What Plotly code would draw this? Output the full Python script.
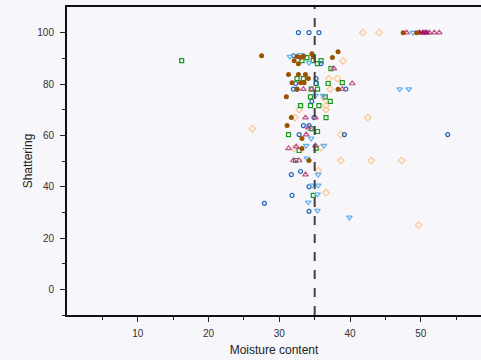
import plotly.graph_objects as go

# ---- data (moisture content, shattering) ----
blue_x = [32.7, 34.2, 35.6, 32.0, 33.4, 35.9, 35.2, 32.3, 35.2, 32.0, 32.5, 39.4, 34.6, 34.9, 33.4, 34.2,
          32.8, 39.2, 53.8, 31.7, 33.0, 34.2, 31.8, 34.2, 27.9]
blue_y = [100, 100, 100, 91, 91, 87.9, 82.1, 80.2, 80.2, 78, 78, 78, 73.2, 66.9, 63.8, 63.8,
          60.3, 60.3, 60.3, 44.7, 45.9, 40, 36.6, 30.4, 33.5]

lblue_x = [31.5, 33.0, 34.2, 48.9, 35.1, 36.2, 47.0, 48.3, 34.5, 33.8, 36.3, 33.9, 35.5, 34.6, 35.5,
           35.4, 34.1, 35.4, 39.9]
lblue_y = [90.7, 91.4, 88.3, 100, 75.5, 75.5, 78, 78, 58.8, 56, 56, 51, 44.7, 40.5, 40.5,
           37, 33.9, 30.7, 28]

green_x = [16.2, 33.2, 33.9, 34.8, 35.9, 35.4, 37.3, 32.5, 33.4, 35.2, 36.9, 38.9, 34.5, 35.4, 34.4,
           36.5, 37.2, 33.0, 34.4, 35.6, 36.6, 34.5, 31.3, 35.4, 32.8, 35.2, 32.3, 34.8]
green_y = [89.1, 89.1, 90.3, 89.1, 89.1, 87.9, 86, 82.1, 82.1, 80.2, 80.2, 80.5, 78, 78, 75,
           75, 73.2, 71.6, 71.6, 71.6, 66.9, 62.6, 60.3, 61.5, 54.1, 54.9, 50.2, 36.6]

brown_x = [27.5, 47.5, 49.4, 32.5, 33.0, 33.4, 34.6, 34.8, 32.1, 32.7, 37.5, 38.3, 31.3, 32.7, 33.7,
           31.8, 33.0, 33.5, 34.1, 32.5, 38.3, 31.0, 31.7, 31.1, 33.2, 33.2, 34.2]
brown_y = [91, 100, 100, 90.7, 90.3, 90.7, 91.8, 90.7, 89.1, 87.9, 90.3, 92.6, 83.7, 83.7, 83.7,
           80.5, 80.5, 80.5, 82.1, 78, 78, 75, 66.9, 63.8, 58.8, 54.9, 50.2]

orange_x = [41.8, 44.1, 39.0, 37.0, 38.2, 37.2, 36.3, 36.6, 36.6, 32.8, 32.2, 42.5, 26.2, 38.7,
            32.1, 35.9, 38.7, 43.0, 47.3, 35.5, 36.6, 49.7]
orange_y = [100, 100, 89, 82.1, 82.1, 78, 74.7, 71.6, 70, 70, 66.9, 66.9, 62.6, 60.3,
            54.9, 55.3, 50.2, 50.2, 50.2, 46.3, 37.7, 25]

pink_x = [48.0, 50.6, 51.2, 51.9, 52.6, 37.7, 40.3, 33.4, 34.6, 38.9, 33.7, 35.1, 34.1, 33.8,
          31.3, 32.4, 35.1, 32.0, 32.8, 33.7]
pink_y = [100, 100, 100, 100, 100, 86, 80.2, 78, 78, 78, 66.9, 66.9, 63, 60.3,
          54.9, 55.6, 56, 50.2, 50.2, 44.7]

magenta_x = [49.8, 50.3, 50.8]
magenta_y = [100, 100, 100]

threshold = 35
x_ticks = [10, 20, 30, 40, 50]
y_ticks = [0, 20, 40, 60, 80, 100]

fig = go.Figure()

def add(x, y, symbol, color, size=5, lw=1.2):
    fig.add_trace(go.Scatter(x=x, y=y, mode="markers", showlegend=False,
                             marker=dict(symbol=symbol, size=size, color=color,
                                         line=dict(color=color, width=lw))))

add(orange_x, orange_y, "diamond-open", "#ffc58a", 5)
add(green_x, green_y, "square-open", "#1a9a1a", 4)
add(blue_x, blue_y, "circle-open", "#1f64b4", 4)
add(lblue_x, lblue_y, "triangle-down-open", "#62b0f0", 5)
add(pink_x, pink_y, "triangle-up-open", "#c0508c", 5)
add(magenta_x, magenta_y, "triangle-up", "#a01a5c", 5)
add(brown_x, brown_y, "circle", "#9a5300", 5, 0)

fig.add_shape(type="line", xref="x", yref="paper", x0=threshold, x1=threshold, y0=0, y1=1,
              line=dict(color="#444444", width=2, dash="dash"))

bg = "#f6f6fb"
fig.update_layout(
    width=481, height=360,
    margin=dict(l=67, r=0, t=7, b=45),
    paper_bgcolor=bg, plot_bgcolor=bg,
    font=dict(family="Liberation Sans, Arial, sans-serif", size=10, color="#333333"),
)
fig.update_xaxes(
    range=[0, 58.5], tickvals=x_ticks, ticks="outside", ticklen=5, tickcolor="#222",
    showgrid=False, zeroline=False, showline=True, linecolor="#111", linewidth=2, mirror=True,
    minor=dict(tickvals=[5, 15, 25, 35, 45, 55], ticks="outside", ticklen=3, tickcolor="#222"),
    title=dict(text="Moisture content", font=dict(size=12, color="#222"), standoff=8),
    ticklabelstandoff=3, automargin=False,
)
fig.update_yaxes(
    range=[-10, 110], tickvals=y_ticks, ticks="outside", ticklen=5, tickcolor="#222",
    showgrid=False, zeroline=False, showline=True, linecolor="#111", linewidth=2,
    minor=dict(tickvals=[-10, 10, 30, 50, 70, 90], ticks="outside", ticklen=3, tickcolor="#222"),
    title=dict(text="Shattering", font=dict(size=12, color="#222"), standoff=2),
    ticklabelstandoff=4, automargin=False,
)

fig.write_html("out.html", config={"displayModeBar": False},
               post_script="document.body.style.margin='0';document.body.style.background='#f6f6fb';")
